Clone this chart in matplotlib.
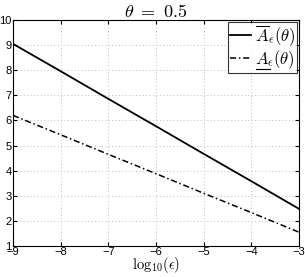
import matplotlib
matplotlib.use("Agg")
import matplotlib.pyplot as plt
from matplotlib.lines import Line2D

# data
log_eps = [-9, -8, -7, -6, -5, -4, -3]
A_upper = [9.05, 7.96, 6.86, 5.77, 4.67, 3.58, 2.48]
A_lower = [6.20, 5.43, 4.65, 3.88, 3.10, 2.33, 1.55]

plt.rcParams['mathtext.fontset'] = 'cm'
plt.rcParams['font.family'] = ['Liberation Sans', 'DejaVu Sans']

fig = plt.figure(figsize=(3.05, 2.77), dpi=100)
ax = fig.add_axes([13 / 305, 31 / 277, 286 / 305, 226 / 277])

ax.plot(log_eps, A_upper, color='black', lw=1.3, ls='-', label=r'$\overline{A}_\epsilon(\theta)$')
ax.plot(log_eps, A_lower, color='black', lw=1.1, ls=(0, (4, 1.8, 1, 1.8)),
        label=r'$A_\epsilon(\theta)$')

ax.set_xlim(-9, -3)
ax.set_ylim(1, 10)
ax.set_xticks(range(-9, -2))
ax.set_yticks(range(1, 11))
ax.tick_params(direction='in', labelsize=8, length=3, top=True, right=True)
ax.tick_params(axis='y', pad=1)
ax.tick_params(axis='x', pad=1)
ax.grid(True, ls=(0, (1, 2.5)), color='#bdbdbd', lw=0.7)
for s in ax.spines.values():
    s.set_linewidth(0.8)

ax.set_xlabel(r'$\mathrm{log}_{10}(\epsilon)$', fontsize=10.5, va='bottom')
ax.xaxis.set_label_coords(0.5, (2 - 31) / 226)
ax.set_title(r'$\theta\ =\ 0.5$', fontsize=13, pad=2)

leg = ax.legend(loc='upper right', fontsize=12, frameon=True, fancybox=False,
                borderpad=0.1, handlelength=1.3, handletextpad=0.25,
                labelspacing=0.0, borderaxespad=0.1)
leg.get_frame().set_edgecolor('black')
leg.get_frame().set_linewidth(0.8)

# mathtext has no \underline, so draw the bar under the A by hand
fig.canvas.draw()
r = fig.canvas.get_renderer()
txt = leg.get_texts()[1]
bb = txt.get_window_extent(r)
tmp = fig.text(0, 0, r'$A$', fontsize=12)
aw = tmp.get_window_extent(r).width
tmp.remove()
y = bb.y0 + 1.5
fig.add_artist(Line2D([bb.x0 + 0.5, bb.x0 + aw], [y, y], color='black', lw=0.8,
                      transform=None))

fig.savefig('out.png', dpi=100)
